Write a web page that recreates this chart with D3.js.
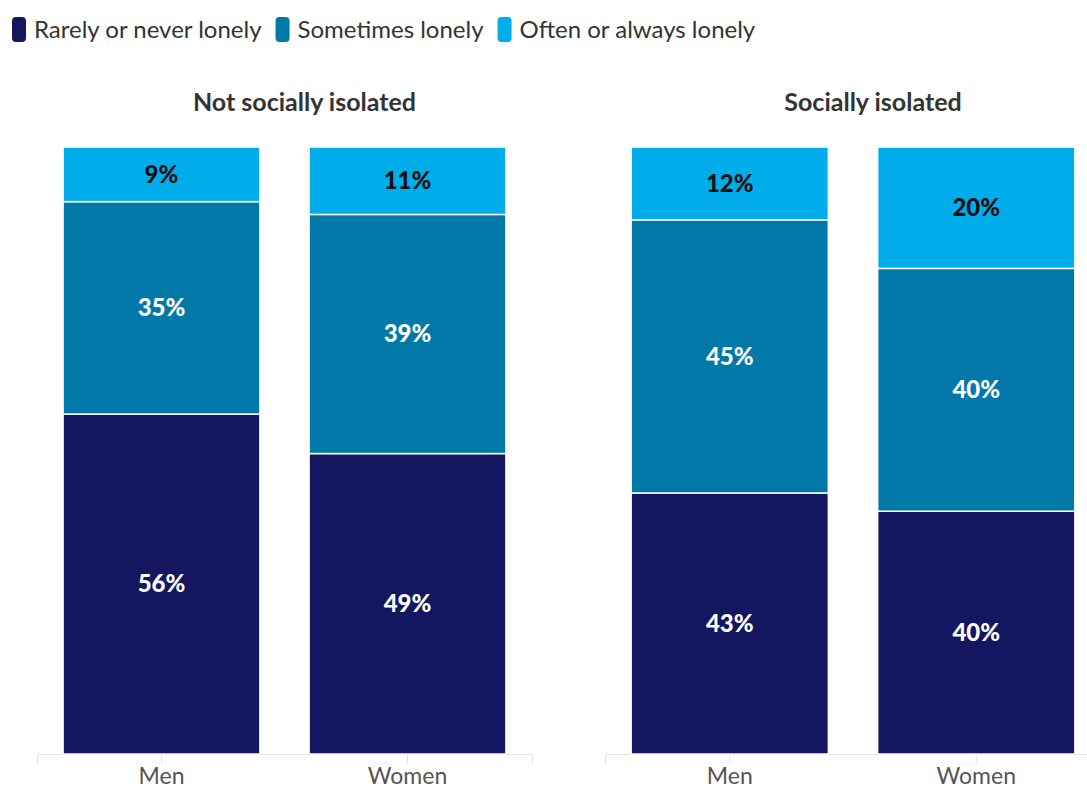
<!DOCTYPE html>
<html>
<head>
<meta charset="utf-8">
<script src="https://cdn.jsdelivr.net/npm/d3@7"></script>
<style>
  body { margin: 0; background: #fff; }
  svg { display: block; font-family: Lato, "Open Sans", sans-serif; }
</style>
</head>
<body>
<div id="chart"></div>
<script>
// data
var panels = ["Not socially isolated", "Socially isolated"];
var groups = ["Men", "Women"];
var series = ["Rarely or never lonely", "Sometimes lonely", "Often or always lonely"];
var colors = ["#141660", "#0079a8", "#00adeb"];
var labelColors = ["#fff", "#fff", "#111"];

// values per panel, per group, in series order
var rarely    = [[56, 49], [43, 40]];
var sometimes = [[35, 39], [45, 40]];
var often     = [[9, 11], [12, 20]];

var width = 1087, height = 789;

var svg = d3.select("#chart").append("svg")
  .attr("width", width)
  .attr("height", height);

// legend
var legend = svg.append("g").attr("class", "legend");
var lx = 12;
series.forEach(function(s, i){
  legend.append("rect")
    .attr("x", lx).attr("y", 17)
    .attr("width", 14).attr("height", 25)
    .attr("rx", 4)
    .attr("fill", colors[i]);
  var t = legend.append("text")
    .attr("x", lx + 22).attr("y", 38)
    .attr("font-size", 24)
    .attr("fill", "#333")
    .text(s);
  lx += 22 + t.node().getComputedTextLength() + 14;
});

var panelRanges = [[37, 532], [605, 1101]];
var y = d3.scaleLinear().domain([0, 1]).range([754, 147]);

panels.forEach(function(p, pi){
  var g = svg.append("g").attr("class", "panel");
  var x = d3.scaleBand()
    .domain(groups)
    .range(panelRanges[pi])
    .paddingInner(0.2)
    .paddingOuter(0.106);

  var rows = groups.map(function(gr, gi){
    return {
      group: gr,
      "Rarely or never lonely": rarely[pi][gi],
      "Sometimes lonely": sometimes[pi][gi],
      "Often or always lonely": often[pi][gi]
    };
  });

  var stacked = d3.stack().keys(series).offset(d3.stackOffsetExpand)(rows);

  // title
  g.append("text")
    .attr("x", (panelRanges[pi][0] + panelRanges[pi][1]) / 2 + 20)
    .attr("y", 111)
    .attr("text-anchor", "middle")
    .attr("font-size", 25)
    .attr("font-weight", "bold")
    .attr("fill", "#333")
    .text(p);

  // axis
  var axis = g.append("g")
    .attr("transform", "translate(0,754)")
    .call(d3.axisBottom(x).tickSizeOuter(0).tickSize(10).tickPadding(4));
  axis.select(".domain").attr("stroke", "#e4e4e4");
  axis.selectAll(".tick line").attr("stroke", "#e4e4e4");
  axis.selectAll(".tick text")
    .attr("font-size", 23)
    .attr("font-family", "Lato, sans-serif")
    .attr("fill", "#555");

  var layer = g.selectAll("g.layer")
    .data(stacked)
    .enter().append("g")
    .attr("class", "layer")
    .attr("fill", function(d, i){ return colors[i]; });

  layer.selectAll("rect")
    .data(function(d){ return d; })
    .enter().append("rect")
    .attr("x", function(d){ return x(d.data.group); })
    .attr("width", x.bandwidth())
    .attr("y", function(d){ return y(d[1]); })
    .attr("height", function(d){ return y(d[0]) - y(d[1]); })
    .attr("stroke", "#fff")
    .attr("stroke-width", 1.5);

  layer.each(function(s, si){
    d3.select(this).selectAll("text")
      .data(s)
      .enter().append("text")
      .attr("x", function(d){ return x(d.data.group) + x.bandwidth() / 2; })
      .attr("y", function(d){ return (y(d[0]) + y(d[1])) / 2; })
      .attr("dy", "0.35em")
      .attr("text-anchor", "middle")
      .attr("font-size", 24)
      .attr("font-weight", 900)
      .attr("fill", labelColors[si])
      .text(function(d){ return d.data[s.key] + "%"; });
  });
});
</script>
</body>
</html>
